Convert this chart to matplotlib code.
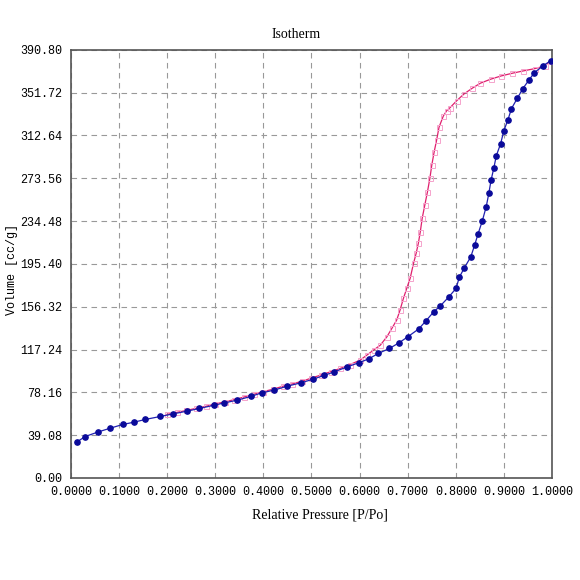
import numpy as np
import matplotlib
matplotlib.use('Agg')
import matplotlib.pyplot as plt

# adsorption branch (blue)
ads_p = [0.013, 0.030, 0.057, 0.082, 0.108, 0.1315, 0.155, 0.186, 0.213, 0.241,
         0.267, 0.298, 0.319, 0.346, 0.374, 0.397, 0.422, 0.450, 0.478, 0.504,
         0.526, 0.546, 0.573, 0.598, 0.619, 0.639, 0.662, 0.682, 0.700, 0.723,
         0.738, 0.754, 0.768, 0.785, 0.8005, 0.807, 0.817, 0.831, 0.839, 0.846,
         0.855, 0.863, 0.8685, 0.873, 0.879, 0.884, 0.893, 0.8997, 0.908, 0.9155,
         0.928, 0.939, 0.952, 0.963, 0.981, 0.997]
ads_v = [32.9, 37.8, 42.0, 45.4, 48.8, 50.9, 53.4, 56.1, 58.5, 60.9,
         63.4, 66.4, 68.5, 71.0, 74.4, 77.7, 80.1, 83.8, 86.8, 90.2,
         93.6, 96.6, 101.2, 105.1, 108.7, 113.7, 118.2, 123.4, 128.8, 136.1,
         143.5, 151.7, 157.2, 165.1, 173.1, 183.1, 191.3, 201.9, 212.6, 222.7,
         234.8, 247.6, 259.9, 271.7, 283.3, 294.2, 305.2, 317.1, 326.8, 337.2,
         346.9, 355.4, 363.4, 370.0, 376.2, 381.0]

# desorption branch (pink)
des_p = [0.997, 0.985, 0.964, 0.940, 0.9175, 0.894, 0.872, 0.851, 0.834, 0.817,
         0.802, 0.788, 0.781, 0.774, 0.765, 0.760, 0.755, 0.750, 0.746, 0.741,
         0.7355, 0.730, 0.726, 0.722, 0.7175, 0.712, 0.705, 0.698, 0.691, 0.684,
         0.677, 0.667, 0.6566, 0.643, 0.629, 0.615, 0.601, 0.58, 0.56, 0.54,
         0.52, 0.50, 0.48, 0.46, 0.44, 0.42, 0.40, 0.38, 0.36, 0.34,
         0.32, 0.30, 0.28, 0.26, 0.24, 0.22, 0.20]
des_v = [381.0, 376.2, 373.7, 371.6, 369.5, 367.0, 364.0, 360.4, 355.8, 350.6,
         344.5, 338.1, 335.3, 330.5, 320.2, 308.5, 297.9, 285.7, 273.6, 261.3,
         249.2, 237.0, 224.5, 214.2, 205.1, 195.9, 182.2, 173.1, 163.9, 153.2,
         144.1, 136.5, 128.8, 121.2, 116.7, 112.1, 107.5, 103.5, 100.0, 97.0,
         94.0, 91.2, 88.2, 85.8, 83.6, 81.0, 78.8, 76.3, 73.9, 71.5,
         69.5, 67.5, 65.3, 63.5, 61.6, 59.8, 58.0]

yticks = [0.00, 39.08, 78.16, 117.24, 156.32, 195.40, 234.48, 273.56, 312.64, 351.72, 390.80]
xticks = [0.0, 0.1, 0.2, 0.3, 0.4, 0.5, 0.6, 0.7, 0.8, 0.9, 1.0]

mono = 'Liberation Mono'
serif = 'Liberation Serif'

fig = plt.figure(figsize=(5.8, 5.8), dpi=100)
ax = fig.add_axes([0.122, 0.176, 0.830, 0.738])

ax.plot(des_p, des_v, color='#E0206E', linewidth=0.9, marker='s', markersize=3.6,
        markerfacecolor='none', markeredgecolor='#F5A3CC', markeredgewidth=0.7, zorder=3)
ax.plot(ads_p, ads_v, color='#2020B0', linewidth=0.9, marker='o', markersize=3.8,
        markerfacecolor='#0A0A9A', markeredgecolor='#0A0A9A', zorder=4)

ax.set_xlim(0, 1)
ax.set_ylim(0, 390.8)
ax.set_xticks(xticks)
ax.set_yticks(yticks)
ax.set_xticklabels(['%.4f' % t for t in xticks], fontfamily=mono, fontsize=8.5)
ax.set_yticklabels(['%.2f' % t for t in yticks], fontfamily=mono, fontsize=8.5)
ax.tick_params(length=0, pad=6)
ax.grid(True, linestyle=(0, (5, 4)), color='#999999', linewidth=0.8)
for s in ax.spines.values():
    s.set_color('#555555')
    s.set_linewidth(1.2)

fig.text(296 / 580, 1 - 35 / 580, 'Isotherm', ha='center', va='center',
         fontfamily=serif, fontsize=10)
fig.text(320 / 580, 1 - 515 / 580, 'Relative Pressure [P/Po]', ha='center', va='center',
         fontfamily=serif, fontsize=10)
fig.text(12 / 580, 1 - 270 / 580, 'Volume [cc/g]', ha='center', va='center',
         rotation=90, fontfamily=mono, fontsize=8.5)

fig.savefig('out.png', dpi=100)
